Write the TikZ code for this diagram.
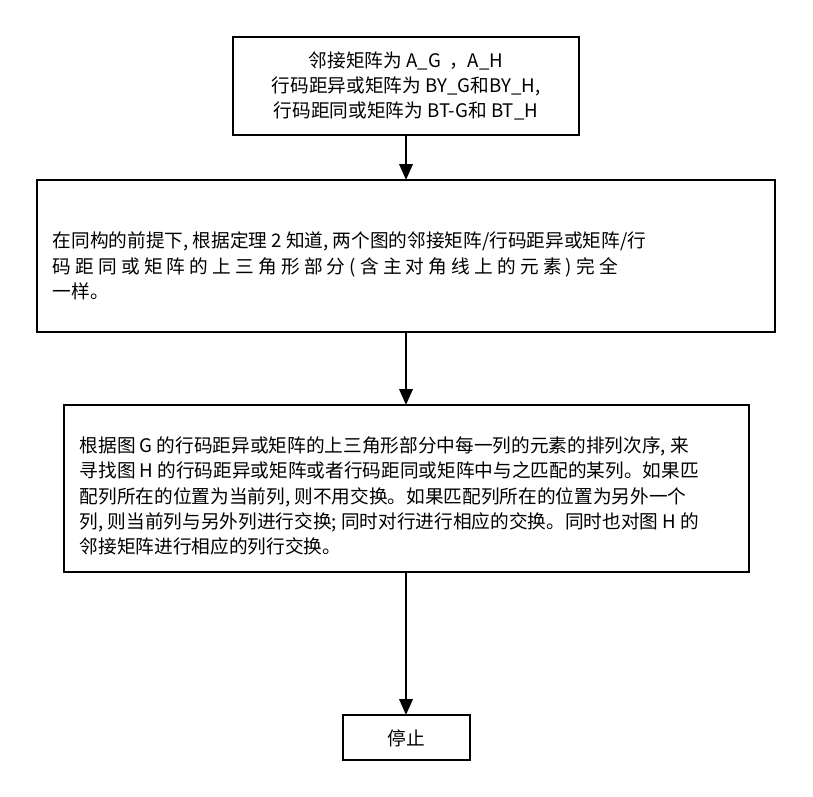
\documentclass[tikz,border=0pt]{standalone}
\usepackage{fontspec}
\setmainfont{Noto Sans CJK SC}
\usetikzlibrary{arrows.meta}
\begin{document}
\begin{tikzpicture}[x=0.75pt,y=-0.75pt,
  box/.style={draw,line width=1.5pt},
  txt/.style={font=\fontsize{14}{19}\selectfont},
  arr/.style={line width=2pt,-{Triangle[length=12pt,width=10pt]}}]
\useasboundingbox (0,0) rectangle (813,796);
\draw[box] (233,37) rectangle (579,135);
\node[txt,align=center] (t1) at (406,86) {邻接矩阵为 A\_G\ \ ，A\_H\\行码距异或矩阵为 BY\_G和BY\_H,\\行码距同或矩阵为 BT-G和 BT\_H};
\coordinate (b1) at (406,135);
\draw[box] (37,180) rectangle (775,332);
\coordinate (b2t) at (406,180); \coordinate (b2b) at (406,332);
\node[txt,align=left,anchor=west] (t2) at (48,266) {在同构的前提下, 根据定理 2 知道, 两个图的邻接矩阵/行码距异或矩阵/行\\码\ 距\ 同\ 或\ 矩\ 阵\ 的\ 上\ 三\ 角\ 形\ 部\ 分\ (\ 含\ 主\ 对\ 角\ 线\ 上\ 的\ 元\ 素\ )\ 完\ 全\\一样。};
\draw[box] (64,405) rectangle (749,572);
\coordinate (b3t) at (406,405); \coordinate (b3b) at (406,572);
\node[txt,align=left,anchor=west] (t3) at (75,496) {根据图 G 的行码距异或矩阵的上三角形部分中每一列的元素的排列次序, 来\\寻找图 H 的行码距异或矩阵或者行码距同或矩阵中与之匹配的某列。如果匹\\配列所在的位置为当前列, 则不用交换。如果匹配列所在的位置为另外一个\\列, 则当前列与另外列进行交换; 同时对行进行相应的交换。同时也对图 H 的\\邻接矩阵进行相应的列行交换。};
\draw[box] (343,715) rectangle (470,760);
\node[txt] (t4) at (406,738) {停止};
\coordinate (b4t) at (406,715);
\draw[arr] (b1) -- (b2t);
\draw[arr] (b2b) -- (b3t);
\draw[arr] (b3b) -- (b4t);
\end{tikzpicture}
\end{document}
